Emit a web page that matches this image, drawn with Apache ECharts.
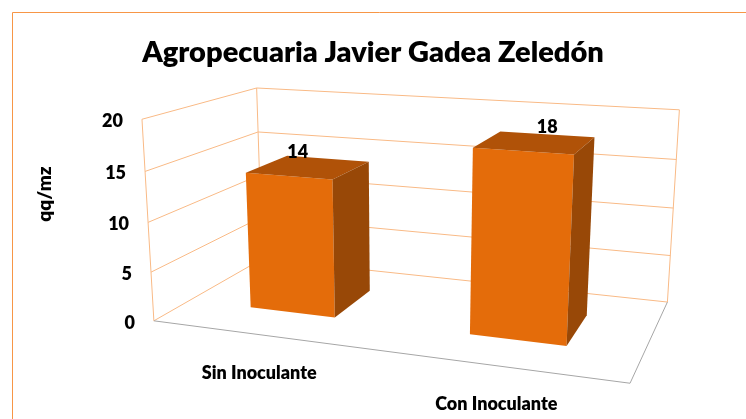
<!DOCTYPE html>
<html>
<head>
<meta charset="utf-8">
<title>Agropecuaria Javier Gadea Zeledón</title>
<script src="https://cdn.jsdelivr.net/npm/echarts@6/dist/echarts.min.js"></script>
<style>
  html, body { margin: 0; padding: 0; background: #fff; }
  #chart { width: 746px; height: 419px; }
</style>
</head>
<body>
<div id="chart"></div>
<script>
// datos
const categories = ['Sin Inoculante', 'Con Inoculante'];
const values = [14, 18];
const yTicks = [0, 5, 10, 15, 20];

const FONT = 'Lato, "Open Sans", sans-serif';
const orangeLine = '#F9BA86';
const floorLine = '#A6A6A6';

// esquinas de la caja 3D en pantalla (X 0..1 izq-der, Y 0..1 abajo-arriba, Z 0..1 frente-fondo)
const camPoints = [
  [0, 1, 0, 141.7, 119.3],
  [0, 0.75, 0, 145, 171],
  [0, 0.5, 0, 148.3, 222.7],
  [0, 0.25, 0, 151.7, 272.3],
  [0, 0, 0, 153.3, 320.7],
  [0, 1, 1, 256.7, 88],
  [0, 0.75, 1, 258, 132],
  [1, 1, 1, 679.3, 110],
  [1, 0.75, 1, 676.7, 159.3],
  [1, 0.5, 1, 673, 208.3],
  [1, 0.25, 1, 670, 255],
  [1, 0, 1, 667.7, 302.3],
  [1, 0, 0, 630, 383.3]
];

// matriz de proyeccion (DLT por minimos cuadrados)
function solveCamera(pts) {
  const n = 11;
  const M = [];
  for (let i = 0; i < n; i++) M.push(new Array(n + 1).fill(0));
  const addRow = (a, b) => {
    for (let i = 0; i < n; i++) {
      for (let j = 0; j < n; j++) M[i][j] += a[i] * a[j];
      M[i][n] += a[i] * b;
    }
  };
  pts.forEach(([X, Y, Z, u, v]) => {
    addRow([X, Y, Z, 1, 0, 0, 0, 0, -u * X, -u * Y, -u * Z], u);
    addRow([0, 0, 0, 0, X, Y, Z, 1, -v * X, -v * Y, -v * Z], v);
  });
  for (let c = 0; c < n; c++) {
    let p = c;
    for (let r = c + 1; r < n; r++) if (Math.abs(M[r][c]) > Math.abs(M[p][c])) p = r;
    [M[c], M[p]] = [M[p], M[c]];
    for (let r = 0; r < n; r++) {
      if (r === c) continue;
      const f = M[r][c] / M[c][c];
      for (let k = c; k <= n; k++) M[r][k] -= f * M[c][k];
    }
  }
  return M.map((row, i) => row[n] / row[i]);
}
const P = solveCamera(camPoints);

function proj(X, Y, Z) {
  const w = P[8] * X + P[9] * Y + P[10] * Z + 1;
  return [
    (P[0] * X + P[1] * Y + P[2] * Z + P[3]) / w,
    (P[4] * X + P[5] * Y + P[6] * Z + P[7]) / w
  ];
}

function line(a, b, color) {
  return {
    type: 'line',
    shape: { x1: a[0], y1: a[1], x2: b[0], y2: b[1] },
    style: { stroke: color, lineWidth: 1 }
  };
}

// pasa de coordenadas del grid (oculto) a la caja normalizada
function norm(cs, pt) {
  return [(pt[0] - cs.x) / cs.width, (cs.y + cs.height - pt[1]) / cs.height];
}

function renderFrame(params, api) {
  const cs = params.coordSys;
  const t = api.value(1);
  const Y = norm(cs, api.coord([0, t]))[1];
  const children = [
    line(proj(0, Y, 0), proj(0, Y, 1), orangeLine),
    line(proj(0, Y, 1), proj(1, Y, 1), orangeLine)
  ];
  const lp = proj(0, Y, 0);
  children.push({
    type: 'text',
    style: {
      text: String(t), x: lp[0] - 19, y: lp[1] + 2,
      font: '800 18px ' + FONT, fill: '#000', align: 'right', verticalAlign: 'middle'
    }
  });
  if (params.dataIndex === 0) {
    children.push(line(proj(0, 0, 0), proj(0, 1, 0), orangeLine));
    children.push(line(proj(0, 0, 1), proj(0, 1, 1), orangeLine));
    children.push(line(proj(1, 0, 1), proj(1, 1, 1), orangeLine));
    children.push(line(proj(0, 0, 0), proj(1, 0, 0), floorLine));
    children.push(line(proj(1, 0, 0), proj(1, 0, 1), floorLine));
  }
  return { type: 'group', children: children };
}

// profundidad de las barras dentro de la caja
const zFront = 0.3, zBack = 0.7;

function renderBar(params, api) {
  const cs = params.coordSys;
  const i = api.value(0);
  const v = api.value(1);
  const top = api.coord([i, v]);
  const band = api.size([1, 0])[0];
  const c = norm(cs, top);
  const half = band * 0.2 / cs.width;
  const x0 = c[0] - half, x1 = c[0] + half, h = c[1];
  const pts = (arr) => arr.map(p => proj(p[0], p[1], p[2]));
  const front = pts([[x0, 0, zFront], [x1, 0, zFront], [x1, h, zFront], [x0, h, zFront]]);
  const topF = pts([[x0, h, zFront], [x1, h, zFront], [x1, h, zBack], [x0, h, zBack]]);
  const side = pts([[x1, 0, zFront], [x1, 0, zBack], [x1, h, zBack], [x1, h, zFront]]);
  const tc = proj(c[0], h, (zFront + zBack) / 2);
  const lc = proj(c[0], 0, 0);
  return {
    type: 'group',
    children: [
      { type: 'polygon', shape: { points: front }, style: { fill: '#E46C0A' } },
      { type: 'polygon', shape: { points: topF }, style: { fill: '#B05208' } },
      { type: 'polygon', shape: { points: side }, style: { fill: '#984807' } },
      {
        type: 'text',
        style: {
          text: String(v), x: tc[0] + (i === 0 ? -11 : 12), y: tc[1] - 15,
          font: '800 18px ' + FONT, fill: '#000', align: 'center', verticalAlign: 'middle'
        }
      },
      {
        type: 'text',
        style: {
          text: categories[i], x: lc[0] - 1, y: lc[1] + 38,
          font: '800 18px ' + FONT, fill: '#000', align: 'center', verticalAlign: 'middle'
        }
      }
    ]
  };
}

const chart = echarts.init(document.getElementById('chart'));
chart.setOption({
  animation: false,
  title: {
    text: 'Agropecuaria Javier Gadea Zeledón',
    left: 'center',
    top: 33,
    textStyle: { fontFamily: FONT, fontWeight: 800, fontSize: 29, color: '#000' }
  },
  graphic: [
    {
      type: 'rect',
      shape: { x: 12.5, y: 12.5, width: 760, height: 420 },
      style: { fill: 'none', stroke: '#F79646', lineWidth: 1 },
      silent: true
    },
    {
      type: 'text',
      x: 45, y: 194, rotation: Math.PI / 2,
      style: {
        text: 'qq/mz', font: '800 19px ' + FONT, fill: '#000',
        align: 'center', verticalAlign: 'middle'
      },
      silent: true
    }
  ],
  grid: { left: 100, top: 100, width: 400, height: 200, show: false },
  xAxis: { type: 'category', data: categories, show: false },
  yAxis: { type: 'value', min: 0, max: 20, interval: 5, show: false },
  series: [
    {
      type: 'custom',
      silent: true,
      renderItem: renderFrame,
      data: yTicks.map(t => [0, t]),
      z: 1
    },
    {
      type: 'custom',
      silent: true,
      renderItem: renderBar,
      data: values.map((v, i) => [i, v]),
      z: 2
    }
  ]
});
</script>
</body>
</html>
